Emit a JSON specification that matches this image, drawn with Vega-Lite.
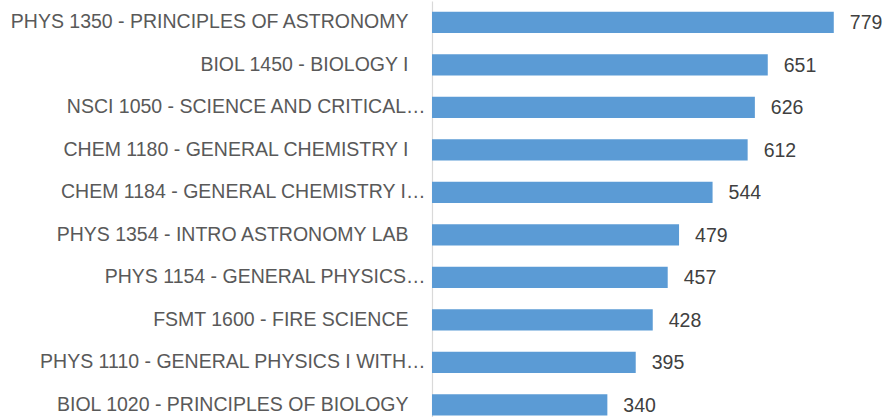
{
  "$schema": "https://vega.github.io/schema/vega-lite/v6.json",
  "autosize": "none",
  "padding": {"left": 432, "top": 1, "right": 0, "bottom": 0},
  "width": 458,
  "height": 425,
  "background": "white",
  "config": {"view": {"stroke": null}},
  "data": {"values": [
    {"course": "PHYS 1350 - PRINCIPLES OF ASTRONOMY", "count": 779},
    {"course": "BIOL 1450 - BIOLOGY I", "count": 651},
    {"course": "NSCI 1050 - SCIENCE AND CRITICAL…", "count": 626},
    {"course": "CHEM 1180 - GENERAL CHEMISTRY I", "count": 612},
    {"course": "CHEM 1184 - GENERAL CHEMISTRY I…", "count": 544},
    {"course": "PHYS 1354 - INTRO ASTRONOMY LAB", "count": 479},
    {"course": "PHYS 1154 - GENERAL PHYSICS…", "count": 457},
    {"course": "FSMT 1600 - FIRE SCIENCE", "count": 428},
    {"course": "PHYS 1110 - GENERAL PHYSICS I WITH…", "count": 395},
    {"course": "BIOL 1020 - PRINCIPLES OF BIOLOGY", "count": 340}
  ]},
  "encoding": {
    "y": {
      "field": "course", "type": "nominal", "sort": null,
      "scale": {"paddingInner": 0.5, "paddingOuter": 0.25},
      "axis": {
        "title": null, "ticks": false, "domainColor": "#d9d9d9", "domainWidth": 1.2,
        "labelFont": "Liberation Sans", "labelFontSize": 19.5, "labelColor": "#595959",
        "labelLimit": 0,
        "labelPadding": {"condition": {"test": "datum.value == 'NSCI 1050 - SCIENCE AND CRITICAL…' || datum.value == 'CHEM 1184 - GENERAL CHEMISTRY I…' || datum.value == 'PHYS 1154 - GENERAL PHYSICS…' || datum.value == 'PHYS 1110 - GENERAL PHYSICS I WITH…'", "value": 7}, "value": 24}
      }
    },
    "x": {
      "field": "count", "type": "quantitative",
      "scale": {"domain": [0, 888], "nice": false},
      "axis": null
    }
  },
  "layer": [
    {"mark": {"type": "bar", "color": "#5b9bd5"}},
    {"mark": {"type": "text", "align": "left", "baseline": "middle", "dx": 16, "dy": 1,
      "font": "Liberation Sans", "fontSize": 19.5, "color": "#404040"},
     "encoding": {"text": {"field": "count", "type": "quantitative"}}}
  ]
}
